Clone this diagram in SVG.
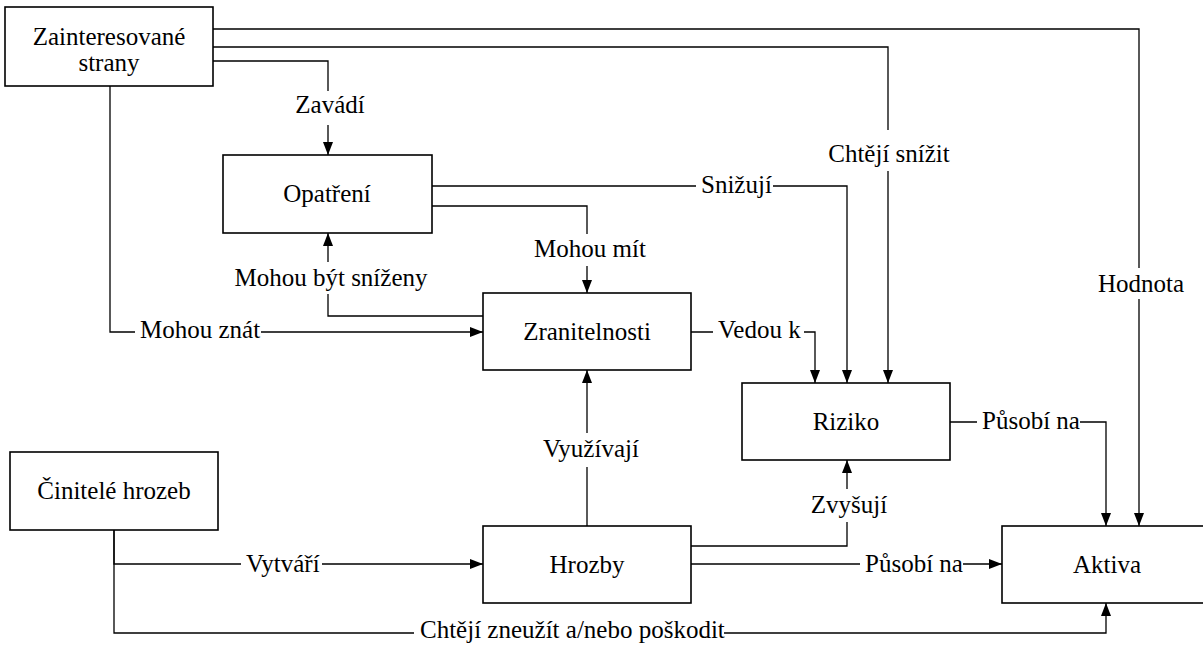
<svg xmlns="http://www.w3.org/2000/svg" width="1203" height="648" viewBox="0 0 1203 648">
<style>
.box{fill:#fff;stroke:#000;stroke-width:1.6}
.t{font-family:'Liberation Serif','Times New Roman',serif;font-size:25px;fill:#000}
.m{text-anchor:middle}
.ln{fill:none;stroke:#000;stroke-width:1.3}
.bg{fill:#fff}
</style>
<defs>
<marker id="ah" viewBox="0 0 13 10" refX="13" refY="5" markerWidth="13" markerHeight="10" markerUnits="userSpaceOnUse" orient="auto">
<path d="M0,0 L13,5 L0,10 Z" fill="#000"/>
</marker>
</defs>
<rect width="1203" height="648" fill="#fff"/>
<g id="connectors">
<path class="ln" d="M213,29 H1139 V526" marker-end="url(#ah)"/>
<path class="ln" d="M213,47 H888 V383" marker-end="url(#ah)"/>
<path class="ln" d="M213,61 H328 V155" marker-end="url(#ah)"/>
<path class="ln" d="M110,86 V332 H483" marker-end="url(#ah)"/>
<path class="ln" d="M432,186 H847 V383" marker-end="url(#ah)"/>
<path class="ln" d="M432,206 H587 V293" marker-end="url(#ah)"/>
<path class="ln" d="M483,316 H328 V233" marker-end="url(#ah)"/>
<path class="ln" d="M691,332 H815 V383" marker-end="url(#ah)"/>
<path class="ln" d="M950,422 H1106 V526" marker-end="url(#ah)"/>
<path class="ln" d="M587,526 V370" marker-end="url(#ah)"/>
<path class="ln" d="M691,546 H847 V460" marker-end="url(#ah)"/>
<path class="ln" d="M691,564 H1002" marker-end="url(#ah)"/>
<path class="ln" d="M114,530 V564 H483" marker-end="url(#ah)"/>
<path class="ln" d="M114,530 V633 H1106 V603" marker-end="url(#ah)"/>
<rect class="bg" x="1096" y="268" width="90" height="31"/>
<text class="t m" x="1141" y="292">Hodnota</text>
<rect class="bg" x="828" y="130" width="124" height="41"/>
<text class="t m" x="889" y="162">Chtějí snížit</text>
<rect class="bg" x="294" y="91" width="72" height="34"/>
<text class="t m" x="330" y="113">Zavádí</text>
<rect class="bg" x="135" y="316" width="126" height="30"/>
<text class="t" x="140" y="338">Mohou znát</text>
<rect class="bg" x="696" y="168" width="77" height="30"/>
<text class="t" x="701" y="193">Snižují</text>
<rect class="bg" x="532" y="234" width="116" height="32"/>
<text class="t m" x="590" y="257">Mohou mít</text>
<rect class="bg" x="233" y="262" width="196" height="32"/>
<text class="t m" x="331" y="286">Mohou být sníženy</text>
<rect class="bg" x="713" y="316" width="91" height="30"/>
<text class="t" x="718" y="338">Vedou k</text>
<rect class="bg" x="977" y="406" width="103" height="30"/>
<text class="t" x="982" y="429">Působí na</text>
<rect class="bg" x="540" y="433" width="102" height="34"/>
<text class="t m" x="591" y="457">Využívají</text>
<rect class="bg" x="810" y="489" width="78" height="33"/>
<text class="t m" x="849" y="513">Zvyšují</text>
<rect class="bg" x="860" y="550" width="103" height="30"/>
<text class="t" x="865" y="572">Působí na</text>
<rect class="bg" x="241" y="550" width="81" height="30"/>
<text class="t" x="246" y="572">Vytváří</text>
<rect class="bg" x="414" y="617" width="310" height="30"/>
<text class="t" x="420" y="638">Chtějí zneužít a/nebo poškodit</text>
</g>
<g id="zainteresovane">
<rect class="box" x="5" y="7" width="208" height="79"/>
<text class="t m" x="109" y="45">Zainteresované</text>
<text class="t m" x="109" y="71">strany</text>
</g>
<g id="opatreni">
<rect class="box" x="223" y="155" width="209" height="78"/>
<text class="t m" x="327" y="202">Opatření</text>
</g>
<g id="zranitelnosti">
<rect class="box" x="483" y="293" width="208" height="77"/>
<text class="t m" x="587" y="340">Zranitelnosti</text>
</g>
<g id="riziko">
<rect class="box" x="742" y="383" width="208" height="77"/>
<text class="t m" x="846" y="430">Riziko</text>
</g>
<g id="cinitele">
<rect class="box" x="10" y="452" width="208" height="78"/>
<text class="t m" x="114" y="499">Činitelé hrozeb</text>
</g>
<g id="hrozby">
<rect class="box" x="483" y="526" width="208" height="77"/>
<text class="t m" x="587" y="573">Hrozby</text>
</g>
<g id="aktiva">
<rect class="box" x="1002" y="526" width="208" height="77"/>
<text class="t m" x="1107" y="573">Aktiva</text>
</g>
</svg>
